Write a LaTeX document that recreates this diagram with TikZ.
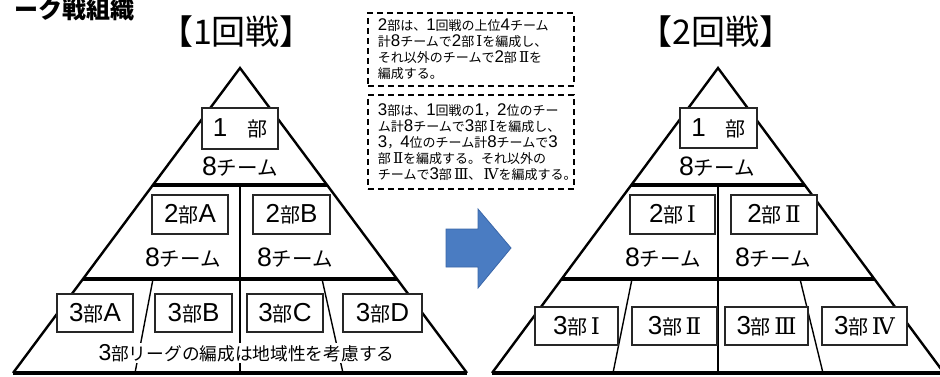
\documentclass[tikz,border=0pt]{standalone}
\usepackage{fontspec}
\setmainfont{Noto Sans CJK JP}
\newfontfamily\latinfont{Liberation Sans}
\newfontfamily\romfont{DejaVu Serif}
\newcommand\Lt[1]{\scalebox{1.3}{\latinfont #1}}
\newcommand\Rn[1]{\,\scalebox{1.15}{\romfont #1}}
\usetikzlibrary{calc}
\definecolor{arrowblue}{HTML}{4A7CC2}
\definecolor{arrowedge}{HTML}{3A66A8}
\begin{document}
\begin{tikzpicture}[x=1pt,y=-1pt,
  side/.style={line width=2.4pt},
  divider/.style={line width=3.4pt},
  thinline/.style={line width=1.4pt},
  lbox/.style={draw=black!85, line width=1.2pt, fill=white, inner sep=0pt, font=\fontsize{20}{20}\selectfont},
  tier/.style={font=\fontsize{20.5}{20.5}\selectfont, inner sep=1pt},
  titletext/.style={font=\fontsize{34}{34}\selectfont, inner sep=0pt},
  note/.style={draw, dash pattern=on 6pt off 4pt, line width=1.8pt, align=left,
    font=\fontsize{13}{16}\selectfont, anchor=north west, inner xsep=10pt, inner ysep=0pt,
    text width=186pt, minimum width=204pt}
]
\useasboundingbox (0,0) rectangle (940,376);
\clip (0,0) rectangle (940,376);

% heading
\node[anchor=east, font=\bfseries\fontsize{24}{24}\selectfont, inner sep=0pt] (head) at (135,9) {ーク戦組織};
\node[titletext] (t1) at (236.5,32) {【1回戦】};
\node[titletext] (t2) at (716,32) {【2回戦】};

% ---------- left pyramid ----------
\coordinate (LA) at (240,68);
\coordinate (LL) at (13,373);
\coordinate (LR) at (467,373);
\draw[side] (LL) -- (LA) -- (LR);
\draw[divider] (LL) -- (LR);
\draw[divider] ($(LA)!0.3836!(LL)$) -- ($(LA)!0.3836!(LR)$);
\draw[divider] ($(LA)!0.6918!(LL)$) -- ($(LA)!0.6918!(LR)$);
\draw[thinline] (240,185) -- (240,373);
\draw[thinline] (153,279) -- (135,373);
\draw[thinline] (322,279) -- (343,373);

\node[lbox, minimum width=76pt, minimum height=41pt] (l1) at (240,128.5) {\Lt{1}　部};
\node[tier] (l1t) at (240,167) {\Lt{8}チーム};
\node[lbox, minimum width=76pt, minimum height=39pt] (l2a) at (190,214.5) {\Lt{2}部\Lt{A}};
\node[lbox, minimum width=77pt, minimum height=39pt] (l2b) at (291.5,214.5) {\Lt{2}部\Lt{B}};
\node[tier] (l2at) at (183,258) {\Lt{8}チーム};
\node[tier] (l2bt) at (295,258) {\Lt{8}チーム};
\node[lbox, minimum width=76pt, minimum height=38pt] (l3a) at (95,313) {\Lt{3}部\Lt{A}};
\node[lbox, minimum width=77pt, minimum height=38pt] (l3b) at (193.5,313) {\Lt{3}部\Lt{B}};
\node[lbox, minimum width=76pt, minimum height=38pt] (l3c) at (285,313) {\Lt{3}部\Lt{C}};
\node[lbox, minimum width=79pt, minimum height=38pt] (l3d) at (382.5,313) {\Lt{3}部\Lt{D}};
\node[fill=white, inner xsep=2pt, inner ysep=1pt, font=\fontsize{17.7}{17.7}\selectfont] (l3t) at (246.5,353) {\Lt{3}部リーグの編成は地域性を考慮する};

% ---------- notes ----------
\node[note, minimum height=73pt] (n1) at (367,12) {\Lt{2}部は、\Lt{1}回戦の上位\Lt{4}チーム\\計\Lt{8}チームで\Lt{2}部\Rn{Ⅰ}を編成し、\\それ以外のチームで\Lt{2}部\Rn{Ⅱ}を\\編成する。};
\node[note, minimum height=94pt] (n2) at (367,94) {\Lt{3}部は、\Lt{1}回戦の\Lt{1}，\Lt{2}位のチー\\ム計\Lt{8}チームで\Lt{3}部\Rn{Ⅰ}を編成し、\\\Lt{3}，\Lt{4}位のチーム計\Lt{8}チームで\Lt{3}\\部\Rn{Ⅱ}を編成する。それ以外の\\チームで\Lt{3}部\Rn{Ⅲ}、\Rn{Ⅳ}を編成する。};

% ---------- arrow ----------
\draw[fill=arrowblue, draw=arrowedge, line width=0.8pt, line join=miter]
  (446,229) -- (478,229) -- (478,209) -- (511,248) -- (478,288) -- (478,267) -- (446,267) -- cycle;

% ---------- right pyramid ----------
\coordinate (RA) at (718,68);
\coordinate (RL) at (492,373);
\coordinate (RR) at (944,373);
\draw[side] (RL) -- (RA) -- (RR);
\draw[divider] (RL) -- (RR);
\draw[divider] ($(RA)!0.3836!(RL)$) -- ($(RA)!0.3836!(RR)$);
\draw[divider] ($(RA)!0.6918!(RL)$) -- ($(RA)!0.6918!(RR)$);
\draw[thinline] (718,185) -- (718,373);
\draw[thinline] (632,279) -- (613,373);
\draw[thinline] (800,279) -- (823,373);

\node[lbox, minimum width=77pt, minimum height=40pt] (r1) at (718.5,128) {\Lt{1}　部};
\node[tier] (r1t) at (717,167) {\Lt{8}チーム};
\node[lbox, minimum width=85pt, minimum height=39pt] (r2a) at (672.5,214.5) {\Lt{2}部\Rn{Ⅰ}};
\node[lbox, minimum width=86pt, minimum height=39pt] (r2b) at (774,214.5) {\Lt{2}部\Rn{Ⅱ}};
\node[tier] (r2at) at (663,258) {\Lt{8}チーム};
\node[tier] (r2bt) at (773,258) {\Lt{8}チーム};
\node[lbox, minimum width=83pt, minimum height=38pt] (r3a) at (576.5,326) {\Lt{3}部\Rn{Ⅰ}};
\node[lbox, minimum width=85pt, minimum height=38pt] (r3b) at (674.5,326) {\Lt{3}部\Rn{Ⅱ}};
\node[lbox, minimum width=83pt, minimum height=38pt] (r3c) at (766.5,326) {\Lt{3}部\Rn{Ⅲ}};
\node[lbox, minimum width=85pt, minimum height=38pt] (r3d) at (864.5,326) {\Lt{3}部\Rn{Ⅳ}};
\end{tikzpicture}
\end{document}
